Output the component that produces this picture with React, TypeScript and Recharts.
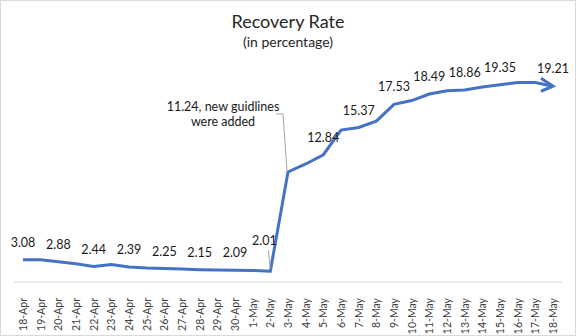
import { Line, LineChart, XAxis, YAxis } from "recharts";

const dates = [
  "18-Apr", "19-Apr", "20-Apr", "21-Apr", "22-Apr", "23-Apr", "24-Apr", "25-Apr",
  "26-Apr", "27-Apr", "28-Apr", "29-Apr", "30-Apr", "1-May", "2-May", "3-May",
  "4-May", "5-May", "6-May", "7-May", "8-May", "9-May", "10-May", "11-May",
  "12-May", "13-May", "14-May", "15-May", "16-May", "17-May", "18-May",
];

const rate = [
  3.08, 3.06, 2.88, 2.7, 2.44, 2.62, 2.39, 2.3, 2.25, 2.2, 2.15, 2.12, 2.09, 2.07, 2.01,
  11.24, 11.98, 12.84, 15.13, 15.37, 15.96, 17.53, 17.88, 18.49, 18.79, 18.86, 19.13,
  19.35, 19.55, 19.56, 19.21,
];

// points that carry a data label in the original
const labelled = [0, 2, 4, 6, 8, 10, 12, 14, 15, 17, 19, 21, 23, 25, 27, 30];
const calloutIdx = 15;
const calloutText = ["11.24, new guidlines", "were added"];
const leaderIdx = 14;

const data = dates.map((date, i) => ({ date, rate: rate[i] }));

const FONT = "Lato, 'Open Sans', sans-serif";
const BLUE = "#4472C4";

function DateTick(props: any) {
  const { x, y, payload } = props;
  return (
    <text
      transform={`translate(${x + 4},${y + 8}) rotate(-90)`}
      textAnchor="end"
      fontSize={10.5}
      fontFamily={FONT}
      fill="#404040"
    >
      {payload.value}
    </text>
  );
}

function PointLabel(props: any) {
  const { x, y, value, index } = props;
  if (!labelled.includes(index)) return <g />;
  if (index === calloutIdx) {
    return (
      <g>
        <polyline
          points={`${x - 12},${y - 58} ${x - 5},${y - 58} ${x - 1},${y - 1}`}
          fill="none"
          stroke="#a6a6a6"
          strokeWidth={1}
        />
        <text x={x - 65} y={y - 61} textAnchor="middle" fontSize={12.5} fontFamily={FONT} fill="#1a1a1a">
          {calloutText[0]}
        </text>
        <text x={x - 65} y={y - 46} textAnchor="middle" fontSize={12.5} fontFamily={FONT} fill="#1a1a1a">
          {calloutText[1]}
        </text>
      </g>
    );
  }
  if (index === leaderIdx) {
    return (
      <g>
        <line x1={x - 2} y1={y - 21} x2={x} y2={y - 2} stroke="#a6a6a6" strokeWidth={1} />
        <text x={x - 6} y={y - 26} textAnchor="middle" fontSize={12.5} fontFamily={FONT} fill="#1a1a1a">
          {value.toFixed(2)}
        </text>
      </g>
    );
  }
  return (
    <text x={x} y={y - 13} textAnchor="middle" fontSize={12.5} fontFamily={FONT} fill="#1a1a1a">
      {value.toFixed(2)}
    </text>
  );
}

function ArrowDot(props: any) {
  const { cx, cy, index } = props;
  if (index !== rate.length - 1) return <g key={`d${index}`} />;
  return (
    <polyline
      key={`d${index}`}
      points={`${cx - 12},${cy - 8} ${cx},${cy} ${cx - 12},${cy + 5}`}
      fill="none"
      stroke={BLUE}
      strokeWidth={3}
      strokeLinejoin="miter"
    />
  );
}

export default function App() {
  return (
    <div
      style={{
        position: "fixed",
        left: 0,
        top: 0,
        width: 576,
        height: 336,
        boxSizing: "border-box",
        border: "1px solid #d9d9d9",
        background: "#fff",
        fontFamily: FONT,
      }}
    >
      <div
        style={{
          position: "absolute",
          top: 9,
          left: 0,
          width: "100%",
          textAlign: "center",
          fontSize: 18,
          color: "#262626",
          lineHeight: "22px",
        }}
      >
        Recovery Rate
      </div>
      <div
        style={{
          position: "absolute",
          top: 32,
          left: 0,
          width: "100%",
          textAlign: "center",
          fontSize: 14,
          color: "#262626",
          lineHeight: "18px",
        }}
      >
        (in percentage)
      </div>
      <div style={{ position: "absolute", left: -1, top: -1 }}>
        <LineChart width={576} height={336} data={data} margin={{ top: 67, right: 14, left: 14, bottom: 0 }}>
          <XAxis
            dataKey="date"
            interval={0}
            height={54}
            padding={{ left: 9, right: 9 }}
            tick={<DateTick />}
            tickLine={false}
            axisLine={{ stroke: "#d9d9d9" }}
          />
          <YAxis hide domain={[1, 21]} />
          <Line
            type="linear"
            dataKey="rate"
            stroke={BLUE}
            strokeWidth={3}
            dot={(p: any) => <ArrowDot key={`a${p.index}`} {...p} />}
            activeDot={false}
            label={(p: any) => <PointLabel key={`l${p.index}`} {...p} />}
            isAnimationActive={false}
          />
        </LineChart>
      </div>
    </div>
  );
}
